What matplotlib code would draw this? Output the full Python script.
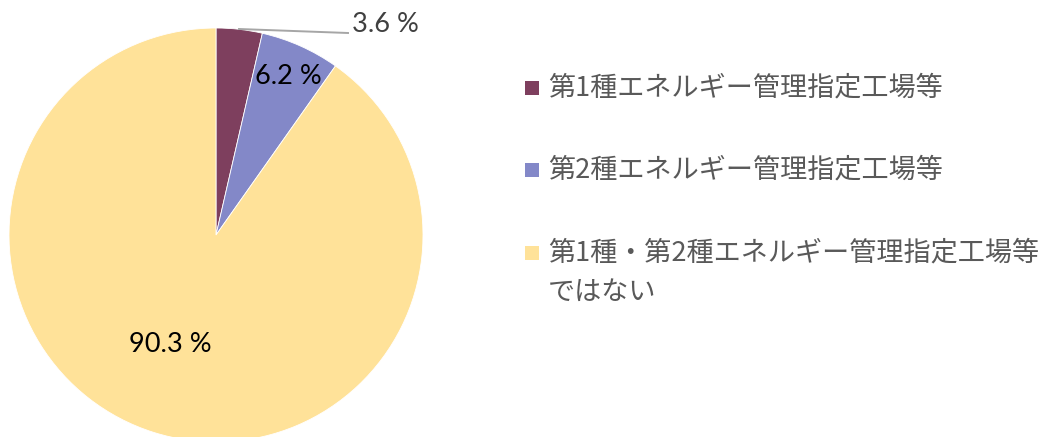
import matplotlib.pyplot as plt
from matplotlib.patches import Rectangle

# share of factories by designation (%)
labels = ['第1種エネルギー管理指定工場等',
          '第2種エネルギー管理指定工場等',
          '第1種・第2種エネルギー管理指定工場等\nではない']
shares = [3.6, 6.2, 90.3]
colors = ['#7E3F5E', '#8388C8', '#FFE299']

W, H = 1049, 437
fig = plt.figure(figsize=(W / 100, H / 100), dpi=100)
ax = fig.add_axes([0, 0, 1, 1])

# pie in pixel-like units, y measured from the bottom
ax.pie(shares, colors=colors, startangle=90, counterclock=False,
       center=(216, H - 235), radius=207, frame=True,
       wedgeprops=dict(linewidth=0.6, edgecolor='white'))
ax.set_xlim(0, W)
ax.set_ylim(0, H)
ax.set_aspect('equal')
ax.axis('off')

# percent labels
lab_font = ['Lato', 'DejaVu Sans']
ax.plot([239, 348], [H - 29, H - 33], color='#A6A6A6', lw=1.4)
ax.text(352, H - 24, f'{shares[0]} %', ha='left', va='center',
        fontsize=19.5, color='#404040', family=lab_font)
ax.text(288, H - 76, f'{shares[1]} %', ha='center', va='center',
        fontsize=19.5, color='black', family=lab_font)
ax.text(170, H - 344, f'{shares[2]} %', ha='center', va='center',
        fontsize=19.5, color='black', family=lab_font)

# legend, each text line placed on its own
rows = [88, 170, 253]
for lab, c, y in zip(labels, colors, rows):
    ax.add_patch(Rectangle((525, H - y - 7), 14, 14, color=c, lw=0))
    for i, line in enumerate(lab.split('\n')):
        ax.text(548, H - y - 39 * i, line, ha='left', va='center',
                fontsize=19.5, color='#595959',
                family=['Noto Sans CJK JP', 'DejaVu Sans'])

fig.savefig('out.png', dpi=100)
